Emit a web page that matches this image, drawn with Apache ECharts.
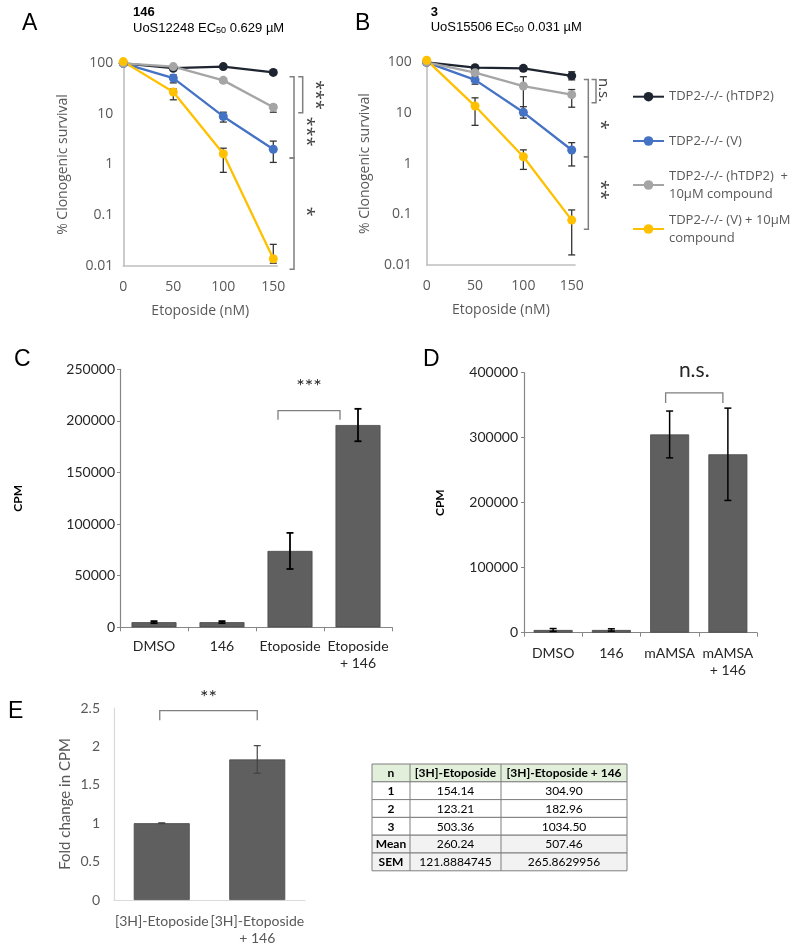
<!DOCTYPE html>
<html><head><meta charset="utf-8">
<script src="https://cdn.jsdelivr.net/npm/echarts@6/dist/echarts.min.js"></script>
<style>html,body{margin:0;padding:0;background:#fff}#c{width:800px;height:951px}</style>
</head><body><div id="c"></div>
<script>
// ---------- DATA ----------
const doses = [0, 50, 100, 150];
const xTicksAB = [0, 50, 100, 150];
const seriesNames = ['TDP2-/-/- (hTDP2)', 'TDP2-/-/- (V)', 'TDP2-/-/- (hTDP2) + 10µM compound', 'TDP2-/-/- (V) + 10µM compound'];
const legendLines = [['TDP2-/-/- (hTDP2)'], ['TDP2-/-/- (V)'], ['TDP2-/-/- (hTDP2)  +', '10µM compound'], ['TDP2-/-/- (V) + 10µM', 'compound']];

// Panel A: 146 / UoS12248
const aHTDP2 = [100, 80, 86, 66];
const aHTDP2Lo = [100, 74, 82, 60];
const aHTDP2Hi = [100, 88, 90, 72];
const aV = [100, 51, 8.9, 2.0];
const aVLo = [100, 41, 6.9, 1.1];
const aVHi = [100, 59, 10.8, 2.9];
const aHTDP2Cmp = [100, 86, 46, 13.5];
const aHTDP2CmpLo = [100, 82, 42, 10.8];
const aHTDP2CmpHi = [100, 90, 50, 15];
const aVCmp = [108, 27, 1.63, 0.0137];
const aVCmpLo = [108, 19, 0.7, 0.0112];
const aVCmpHi = [108, 31, 2.1, 0.0264];

// Panel B: 3 / UoS15506
const bHTDP2 = [100, 78.5, 76, 54];
const bHTDP2Lo = [100, 74, 68, 45];
const bHTDP2Hi = [100, 83, 84, 65];
const bV = [100, 45, 10.3, 1.86];
const bVLo = [100, 37, 7.9, 0.9];
const bVHi = [100, 53, 13.3, 2.6];
const bHTDP2Cmp = [100, 62.5, 34, 23];
const bHTDP2CmpLo = [100, 58, 9, 13];
const bHTDP2CmpHi = [100, 67, 52, 29];
const bVCmp = [110, 13.7, 1.37, 0.077];
const bVCmpLo = [110, 5.7, 0.77, 0.0158];
const bVCmpHi = [110, 19.9, 1.87, 0.122];

// significance brackets A/B: [top value, bottom value, label]
const sigA = [[54, 10.5, '***'], [54, 1.35, '***'], [1.35, 0.0085, '*']];
const sigB = [[46, 16, 'n.s.'], [46, 1.37, '*'], [1.37, 0.051, '**']];

// Panel C
const catC = ['DMSO', '146', 'Etoposide', 'Etoposide\n+ 146'];
const valC = [5000, 5000, 74000, 196000];
const errC = [1000, 1000, 17500, 15700];
const sigC = [2, 3, 210000, 201000, '***'];

// Panel D
const catD = ['DMSO', '146', 'mAMSA', 'mAMSA\n+ 146'];
const valD = [4200, 4200, 305000, 274500];
const errD = [2200, 1800, 36000, 71000];
const sigD = [2, 3, 369000, 353500, 'n.s.'];

// Panel E
const catE = ['[3H]-Etoposide', '[3H]-Etoposide\n+ 146'];
const valE = [1.0, 1.83];
const errE = [0.005, 0.18];
const sigE = [0, 1, 2.465, 2.34, '**'];

// Table
const tableHeader = ['n', '[3H]-Etoposide', '[3H]-Etoposide + 146'];
const tableN = ['1', '2', '3', 'Mean', 'SEM'];
const tableEtop = ['154.14', '123.21', '503.36', '260.24', '121.8884745'];
const tableEtop146 = ['304.90', '182.96', '1034.50', '507.46', '265.8629956'];

// ---------- CHART ----------
const FA = 'Open Sans', FC = 'Lato';
const colors = ['#1f2530', '#4472c4', '#a5a5a5', '#ffc000'];
const chart = echarts.init(document.getElementById('c'), null, {renderer: 'canvas'});

function pts(vals) { return doses.map((d, i) => [d, vals[i]]); }
function lineSeries(name, vals, idx, ci) {
  return {type: 'line', name: name, xAxisIndex: idx, yAxisIndex: idx, data: pts(vals), clip: false,
    symbol: 'circle', symbolSize: 9, showSymbol: true, z: 4,
    lineStyle: {color: colors[ci], width: 2.3}, itemStyle: {color: colors[ci], borderWidth: 0},
    emphasis: {disabled: true}};
}
function errLine(x1, y1, x2, y2, c, w) {
  return {type: 'line', shape: {x1, y1, x2, y2}, style: {stroke: c, lineWidth: w}};
}
function errSeries(idx, xs, lo, hi, c, cw, w) {
  return {type: 'custom', xAxisIndex: idx, yAxisIndex: idx, clip: false, silent: true, z: 3,
    data: xs.map((x, i) => [x, lo[i], hi[i]]),
    renderItem: (p, api) => {
      const x = api.value(0), l = api.value(1), h = api.value(2);
      if (Math.abs(h - l) < 1e-12) return null;
      const a = api.coord([x, h]), b = api.coord([x, l]);
      return {type: 'group', children: [
        errLine(a[0], a[1], b[0], b[1], c, w),
        errLine(a[0] - cw, a[1], a[0] + cw, a[1], c, w),
        errLine(b[0] - cw, b[1], b[0] + cw, b[1], c, w)]};
    }};
}
const dataAB = [
  [[aHTDP2, aHTDP2Lo, aHTDP2Hi], [aV, aVLo, aVHi], [aHTDP2Cmp, aHTDP2CmpLo, aHTDP2CmpHi], [aVCmp, aVCmpLo, aVCmpHi]],
  [[bHTDP2, bHTDP2Lo, bHTDP2Hi], [bV, bVLo, bVHi], [bHTDP2Cmp, bHTDP2CmpLo, bHTDP2CmpHi], [bVCmp, bVCmpLo, bVCmpHi]]
];
const series = [];
dataAB.forEach((panel, pi) => {
  panel.forEach((s, si) => series.push(errSeries(pi, doses, s[1], s[2], '#333333', 3.5, 1.3)));
  panel.forEach((s, si) => series.push(lineSeries(seriesNames[si], s[0], pi, si)));
});
function barSeries(idx, vals, bw) {
  return {type: 'bar', xAxisIndex: idx, yAxisIndex: idx, data: vals, barWidth: bw, z: 2,
    itemStyle: {color: '#5f5f5f', borderColor: '#4a4a4a', borderWidth: 0.8}, emphasis: {disabled: true}};
}
series.push(barSeries(2, valC, 45));
series.push(errSeries(2, catC.map((c, i) => i), valC.map((v, i) => v - errC[i]), valC.map((v, i) => v + errC[i]), '#000', 3.5, 1.8));
series.push(barSeries(3, valD, 39));
series.push(errSeries(3, catD.map((c, i) => i), valD.map((v, i) => v - errD[i]), valD.map((v, i) => v + errD[i]), '#000', 3.5, 1.5));
series.push(barSeries(4, valE, 56));
series.push(errSeries(4, catE.map((c, i) => i), valE.map((v, i) => v - errE[i]), valE.map((v, i) => v + errE[i]), '#444', 3.5, 1.2));

const abAxisLine = {show: true, lineStyle: {color: '#bfbfbf', width: 1.6}};
function logAxis(idx, margin, gap) {
  return {type: 'log', logBase: 10, min: 0.01, max: 100, gridIndex: idx,
    axisLine: abAxisLine, axisTick: {show: false}, splitLine: {show: false},
    axisLabel: {margin: margin, color: '#595959', fontFamily: FA, fontSize: 14,
      formatter: v => String(parseFloat(Number(v).toPrecision(2)))},
    name: '% Clonogenic survival', nameLocation: 'middle', nameGap: gap,
    nameTextStyle: {color: '#595959', fontFamily: FA, fontSize: 14}};
}
function doseAxis(idx, max) {
  return {type: 'value', min: 0, max: max, interval: 50, gridIndex: idx,
    axisLine: abAxisLine, axisTick: {show: false}, splitLine: {show: false},
    axisLabel: {margin: 14, color: '#595959', fontFamily: FA, fontSize: 14, showMaxLabel: false,
      formatter: v => xTicksAB.indexOf(v) >= 0 ? String(v) : ''},
    name: 'Etoposide (nM)', nameLocation: 'middle', nameGap: 38,
    nameTextStyle: {color: '#595959', fontFamily: FA, fontSize: 14}};
}
function catAxis(idx, cats, margin, lh, axisColor, ticks, fontSize, color) {
  return {type: 'category', data: cats, gridIndex: idx,
    axisLine: {show: true, lineStyle: {color: axisColor, width: 1.2}},
    axisTick: {show: ticks, length: 4, lineStyle: {color: axisColor}},
    axisLabel: {interval: 0, margin: margin, color: color, fontFamily: FC, fontSize: fontSize, lineHeight: lh}};
}
function valAxis(idx, max, interval, margin, axisColor, ticks, name, gap, nameStyle, color, fontSize) {
  return {type: 'value', min: 0, max: max, interval: interval, gridIndex: idx,
    axisLine: {show: true, lineStyle: {color: axisColor, width: 1.2}},
    axisTick: {show: ticks, length: 3, lineStyle: {color: axisColor}}, splitLine: {show: false},
    axisLabel: {margin: margin, color: color, fontFamily: FC, fontSize: fontSize, formatter: v => String(v)},
    name: name, nameLocation: 'middle', nameGap: gap, nameTextStyle: nameStyle};
}

const legends = seriesNames.map((n, i) => {
  const two = legendLines[i].length > 1;
  const centers = [96.7, 141, 185, 229];
  return {data: [n], left: 632, top: two ? centers[i] - 27 : centers[i] - 9, padding: 0,
    itemWidth: 31, itemHeight: 12, itemGap: 0, selectedMode: false, orient: 'vertical',
    formatter: () => legendLines[i].join('\n'),
    textStyle: {color: '#595959', fontFamily: FA, fontSize: 13, lineHeight: 18, padding: two ? [18, 0, 0, 0] : 0}};
});

chart.setOption({
  animation: false,
  backgroundColor: '#fff',
  legend: legends,
  grid: [
    {left: 123.3, top: 63.3, width: 154, height: 202.4},
    {left: 426.7, top: 62.3, width: 148.3, height: 202.7},
    {left: 120, top: 369.3, width: 272, height: 258},
    {left: 524, top: 372.7, width: 233, height: 260},
    {left: 114, top: 708, width: 191, height: 192}
  ],
  xAxis: [
    doseAxis(0, 154), doseAxis(1, 153.4),
    catAxis(2, catC, 11, 17, '#868686', true, 14, '#262626'),
    catAxis(3, catD, 12, 17, '#868686', true, 14, '#262626'),
    catAxis(4, catE, 13, 17, '#d9d9d9', false, 14, '#595959')
  ],
  yAxis: [
    logAxis(0, 10, 53), logAxis(1, 15, 55),
    valAxis(2, 250000, 50000, 5, '#868686', true, 'CPM', 96, {fontFamily: FC, fontWeight: 'bold', fontSize: 12, color: '#000'}, '#262626', 14),
    valAxis(3, 400000, 100000, 6, '#868686', true, 'CPM', 78, {fontFamily: FC, fontWeight: 'bold', fontSize: 12, color: '#000'}, '#262626', 14),
    valAxis(4, 2.5, 0.5, 14, '#d9d9d9', false, 'Fold change in CPM', 41, {fontFamily: FC, fontSize: 15, color: '#595959'}, '#595959', 14)
  ],
  series: series
});

// ---------- ANNOTATIONS ----------
const g = [];
function txt(x, y, text, font) {
  g.push({type: 'text', x: x, y: y, silent: true,
    style: {text: text, font: font, fill: '#000', align: 'left', verticalAlign: 'middle'}});
}
function poly(points, color, w) {
  g.push({type: 'polyline', silent: true, shape: {points: points}, style: {stroke: color, lineWidth: w, fill: null}});
}
// panel letters
[['A', 22, 24], ['B', 355, 24], ['C', 14, 360], ['D', 423, 360], ['E', 8, 712]].forEach(l => txt(l[1], l[2], l[0], '23px "Liberation Sans"'));
// titles
txt(133, 12.5, '146', 'bold 13px "Liberation Sans"');
txt(430.7, 12, '3', 'bold 13px "Liberation Sans"');
function ecTitle(x, y, pre, post) {
  g.push({type: 'text', x: x, y: y, silent: true, style: {
    text: '{a|' + pre + ' EC}{s|50}{a| ' + post + '}', verticalAlign: 'middle', align: 'left',
    rich: {a: {font: '13px "Liberation Sans"', fill: '#000'}, s: {font: '9px "Liberation Sans"', fill: '#000', padding: [6, 0, 0, 0]}}}});
}
ecTitle(133, 28, 'UoS12248', '0.629 µM');
ecTitle(430.7, 27, 'UoS15506', '0.031 µM');

// A/B brackets: pos = [bracket dx from x=150, label dx, label y (px)]
function abBrackets(gi, sig, pos) {
  const x150 = chart.convertToPixel({gridIndex: gi}, [150, 1])[0];
  sig.forEach((s, i) => {
    const yt = chart.convertToPixel({gridIndex: gi}, [150, s[0]])[1];
    const yb = chart.convertToPixel({gridIndex: gi}, [150, s[1]])[1];
    const X = x150 + pos[i][0];
    poly([[X - 4.5, yt], [X, yt], [X, yb], [X - 4.5, yb]], '#7f7f7f', 1.5);
    const isStar = s[2].indexOf('*') === 0;
    g.push({type: 'text', x: x150 + pos[i][1] + (isStar ? 3 : 0), y: pos[i][2], rotation: -Math.PI / 2, silent: true,
      style: {text: s[2], font: (isStar ? '18px ' : '15px ') + FA, fill: '#404040', align: 'center', verticalAlign: 'middle'}});
  });
}
abBrackets(0, sigA, [[29.4, 38.7, 95], [20.7, 29.7, 131.7], [20.7, 29.7, 211.7]]);
abBrackets(1, sigB, [[24.3, 31.3, 90], [16.6, 25, 125], [16.6, 25, 190]]);

// bar brackets
function barBracket(gi, sig, dl, dr, labelDy, font) {
  const xl = chart.convertToPixel({gridIndex: gi}, [sig[0], 0])[0] + dl;
  const xr = chart.convertToPixel({gridIndex: gi}, [sig[1], 0])[0] + dr;
  const yt = chart.convertToPixel({gridIndex: gi}, [0, sig[2]])[1];
  const yl = chart.convertToPixel({gridIndex: gi}, [0, sig[3]])[1];
  poly([[xl, yl], [xl, yt], [xr, yt], [xr, yl]], '#7f7f7f', 1.3);
  g.push({type: 'text', x: (xl + xr) / 2, y: yt + labelDy, silent: true,
    style: {text: sig[4], font: font, fill: '#262626', align: 'center', verticalAlign: 'middle'}});
}
barBracket(2, sigC, -12, -18, -24, '20px Lato');
barBracket(3, sigD, -4, -5, -23, '21px Lato');
barBracket(4, sigE, -2, 0, -13, '20px Lato');

// table
const colX = [372, 410, 501, 627];
const rowTop = 764, rowH = 17.8;
const rows = [tableHeader].concat(tableN.map((n, i) => [n, tableEtop[i], tableEtop146[i]]));
rows.forEach((r, ri) => {
  const y = rowTop + ri * rowH;
  const bg = ri === 0 ? '#e2efda' : (ri >= 4 ? '#f2f2f2' : '#ffffff');
  g.push({type: 'rect', silent: true, shape: {x: colX[0], y: y, width: colX[3] - colX[0], height: rowH}, style: {fill: bg, stroke: '#7f7f7f', lineWidth: 1}});
  r.forEach((cell, ci) => {
    const bold = ri === 0 || ci === 0;
    g.push({type: 'text', silent: true, x: (colX[ci] + colX[ci + 1]) / 2, y: y + rowH / 2 + 0.5,
      style: {text: cell, font: (bold ? 'bold ' : '') + '12px Lato', fill: '#000', align: 'center', verticalAlign: 'middle'}});
  });
});
[colX[1], colX[2]].forEach(x => poly([[x, rowTop], [x, rowTop + rows.length * rowH]], '#7f7f7f', 1));

chart.setOption({graphic: {elements: g}});
</script>
</body></html>
